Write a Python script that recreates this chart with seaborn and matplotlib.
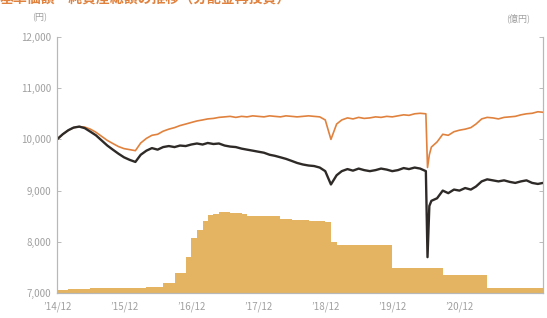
import matplotlib
matplotlib.use("Agg")
import matplotlib.pyplot as plt
import seaborn as sns
import numpy as np
import pandas as pd

# 月次データ（2014/12〜2022/03）
months = pd.date_range("2014-12-01", "2022-03-01", freq="MS")

# 基準価額（円）
nav = [10000, 10100, 10180, 10230, 10250, 10220, 10150, 10080, 9980, 9880, 9800, 9720,
       9650, 9600, 9560, 9700, 9780, 9830, 9800, 9850, 9870, 9850, 9880, 9870,
       9900, 9920, 9900, 9930, 9910, 9920, 9880, 9860, 9850, 9820, 9800, 9780,
       9760, 9740, 9700, 9680, 9650, 9620, 9580, 9540, 9510, 9490, 9480, 9450,
       9380, 9120, 9300, 9380, 9420, 9390, 9430, 9400, 9380, 9400, 9430, 9410,
       9380, 9400, 9440, 9420, 9450, 9430, 9380, 8800, 8850, 9000, 8950, 9020,
       9000, 9050, 9020, 9080, 9180, 9220, 9200, 9180, 9200, 9170, 9150, 9180,
       9200, 9150, 9130, 9150]

# 基準価額（分配金再投資、円）
nav_reinv = [10000, 10100, 10180, 10230, 10250, 10240, 10200, 10140, 10060, 9980, 9920, 9860,
             9820, 9800, 9780, 9930, 10020, 10080, 10100, 10160, 10200, 10230, 10270, 10300,
             10330, 10360, 10380, 10400, 10410, 10430, 10440, 10450, 10430, 10450, 10440, 10460,
             10450, 10440, 10460, 10450, 10440, 10460, 10450, 10440, 10450, 10460, 10450, 10440,
             10380, 10000, 10300, 10380, 10420, 10400, 10430, 10410, 10420, 10440, 10430, 10450,
             10440, 10460, 10480, 10470, 10500, 10510, 10500, 9850, 9950, 10100, 10080, 10150,
             10180, 10200, 10230, 10300, 10400, 10430, 10420, 10400, 10430, 10440, 10450, 10480,
             10500, 10510, 10540, 10530]

# コロナショック時の追加ポイント
crash_dates = ["2020-06-10", "2020-06-20"]
crash_nav = [7700, 8700]
crash_reinv = [9450, 9700]

# 純資産総額（億円）
assets = [60, 65, 70, 75, 80, 85, 90, 95, 95, 100, 100, 100,
          100, 105, 105, 105, 110, 110, 110, 200, 200, 390, 390, 700,
          1070, 1230, 1400, 1520, 1540, 1580, 1580, 1570, 1560, 1540, 1500, 1500,
          1500, 1500, 1500, 1500, 1440, 1440, 1430, 1420, 1420, 1410, 1400, 1400,
          1380, 990, 940, 940, 940, 940, 940, 940, 940, 940, 940, 940,
          490, 490, 490, 490, 490, 490, 490, 490, 490, 350, 350, 350,
          350, 350, 350, 350, 350, 100, 100, 100, 100, 100, 100, 100,
          100, 100, 100, 100]

xtick_dates = pd.to_datetime(["2014-12-01", "2015-12-01", "2016-12-01", "2017-12-01",
                              "2018-12-01", "2019-12-01", "2020-12-01"])
xtick_labels = ["’14/12", "’15/12", "’16/12", "’17/12", "’18/12", "’19/12", "’20/12"]
yticks = [7000, 8000, 9000, 10000, 11000, 12000]

lines = pd.DataFrame({"date": list(months) + list(pd.to_datetime(crash_dates)),
                      "nav": nav + crash_nav,
                      "reinv": nav_reinv + crash_reinv}).sort_values("date")

sns.set_style("white")
plt.rcParams["font.family"] = ["Noto Sans CJK JP", "DejaVu Sans"]

fig = plt.figure(figsize=(5.47, 3.18), dpi=100)
ax = fig.add_axes([57 / 547, 1 - 293 / 318, 486 / 547, 256 / 318])
ax2 = ax.twinx()

# 純資産総額（右軸）
ax2.fill_between(months, assets, 0, step="post", color="#E4B462", linewidth=0)
ax2.set_ylim(0, 5000)
ax2.set_yticks([0, 1000, 2000, 3000, 4000, 5000])
ax2.set_yticklabels([])

ax.set_zorder(ax2.get_zorder() + 1)
ax.patch.set_visible(False)

sns.lineplot(data=lines, x="date", y="reinv", ax=ax, color="#E0823E", linewidth=1.2)
sns.lineplot(data=lines, x="date", y="nav", ax=ax, color="#2E2A28", linewidth=1.7)

ax.set_xlim(months[0], months[-1])
ax.set_ylim(7000, 12000)
ax.set_yticks(yticks)
ax.set_yticklabels([f"{v:,}" for v in yticks])
ax.set_xticks(xtick_dates)
ax.set_xticklabels(xtick_labels)
ax.set_xlabel("")
ax.set_ylabel("")

for a in (ax, ax2):
    a.tick_params(direction="in", length=3, width=0.6, colors="#B0B0B0",
                  labelcolor="#A0A0A0", labelsize=7)
    for side in ("left", "right", "bottom"):
        a.spines[side].set_color("#B8B8B8")
        a.spines[side].set_linewidth(0.8)
    a.spines["top"].set_visible(False)
ax.tick_params(axis="y", pad=4)
ax.tick_params(axis="x", pad=6)

fig.text(47 / 547, 1 - 18 / 318, "(円)", ha="right", va="center", fontsize=6.5, color="#A0A0A0")
fig.text(506 / 547, 1 - 18 / 318, "(億円)", ha="left", va="center", fontsize=6.5, color="#A0A0A0")
# 上端で切れているタイトル
fig.text(0, 1 + 1 / 318, "基準価額・純資産総額の推移（分配金再投資）", ha="left", va="center",
         fontsize=10, color="#E0823E", fontweight="bold")

fig.savefig("out.png", dpi=100)
